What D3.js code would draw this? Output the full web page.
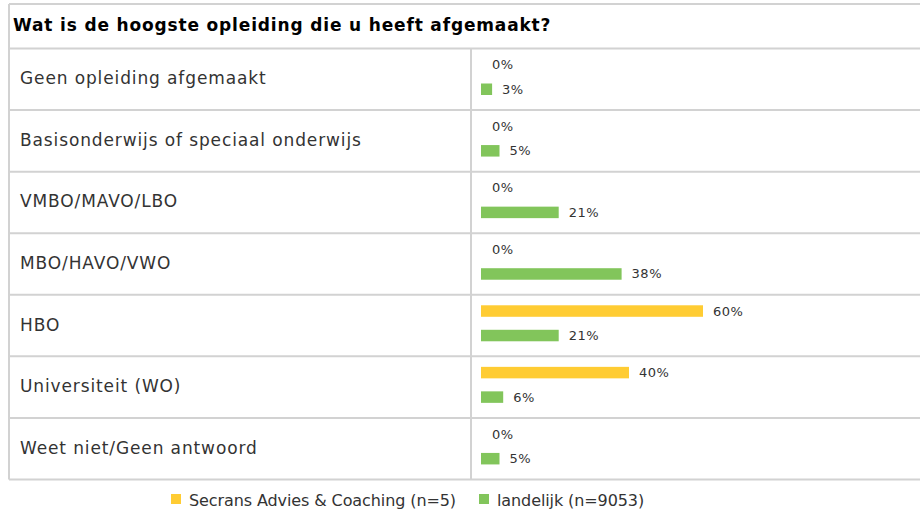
<!DOCTYPE html>
<html><head><meta charset="utf-8">
<script src="https://cdn.jsdelivr.net/npm/d3@7"></script>
<style>body{margin:0;background:#fff;}svg{display:block;font-family:"DejaVu Sans",Verdana,sans-serif;}</style>
</head><body><svg id="c" width="920" height="513"></svg>
<script>
const title = "Wat is de hoogste opleiding die u heeft afgemaakt?";
const categories = ["Geen opleiding afgemaakt","Basisonderwijs of speciaal onderwijs","VMBO/MAVO/LBO","MBO/HAVO/VWO","HBO","Universiteit (WO)","Weet niet/Geen antwoord"];
const secrans = [0,0,0,0,60,40,0];
const landelijk = [3,5,21,38,21,6,5];
const seriesNames = ["Secrans Advies & Coaching (n=5)","landelijk (n=9053)"];
const colors = ["#ffcc33","#82c55b"];

(function(){
const svg = d3.select("#c");
const gridColor = "#d2d2d2";
const L = 9, R = 925, T = 4, headerBottom = 48.5, B = 479.5, colX = 471;
const y = d3.scaleBand().domain(categories).range([headerBottom, B]);
const x = d3.scaleLinear().domain([0,100]).range([481, 851]);

svg.append("line").attr("x1",L).attr("x2",R).attr("y1",T).attr("y2",T).attr("stroke",gridColor).attr("stroke-width",2);
svg.append("line").attr("x1",L).attr("x2",L).attr("y1",T).attr("y2",B).attr("stroke",gridColor).attr("stroke-width",2);
svg.append("text").attr("x",13).attr("y",30.5).attr("font-weight","bold").attr("font-size",17)
  .attr("letter-spacing",0.84).attr("fill","#000").text(title);
categories.forEach(c=>{
  svg.append("line").attr("x1",L).attr("x2",R).attr("y1",y(c)).attr("y2",y(c)).attr("stroke",gridColor).attr("stroke-width",2);
});
svg.append("line").attr("x1",L).attr("x2",R).attr("y1",B).attr("y2",B).attr("stroke",gridColor).attr("stroke-width",2);
svg.append("line").attr("x1",colX).attr("x2",colX).attr("y1",headerBottom).attr("y2",B).attr("stroke",gridColor).attr("stroke-width",2);

const rows = svg.selectAll("g.row").data(categories).join("g").attr("class","row")
  .attr("transform",c=>`translate(0,${y(c)})`);
rows.append("text").attr("x",20).attr("y",y.bandwidth()/2+5).attr("font-size",17)
  .attr("letter-spacing",0.88).attr("fill","#333").text(c=>c);

const barH = 11.5;
[secrans, landelijk].forEach((vals,si)=>{
  const off = si===0 ? 10.5 : 35;
  rows.append("rect").attr("x",x(0)).attr("y",off).attr("height",barH)
    .attr("width",(c,i)=>x(vals[i])-x(0)).attr("fill",colors[si]);
  rows.append("text").attr("x",(c,i)=>x(vals[i])+ (vals[i]>0?10:11)).attr("y",off+barH/2+4.5)
    .attr("font-size",13).attr("letter-spacing",0.5).attr("fill","#333").text((c,i)=>vals[i]+"%");
});

const lg = [{x:171,tx:189},{x:479,tx:497}];
seriesNames.forEach((n,i)=>{
  svg.append("rect").attr("x",lg[i].x).attr("y",494).attr("width",10).attr("height",10).attr("fill",colors[i]);
  svg.append("text").attr("x",lg[i].tx).attr("y",505.5).attr("font-size",16).attr("letter-spacing",-0.1)
    .attr("fill","#333").text(n);
});
})();
</script></body></html>
